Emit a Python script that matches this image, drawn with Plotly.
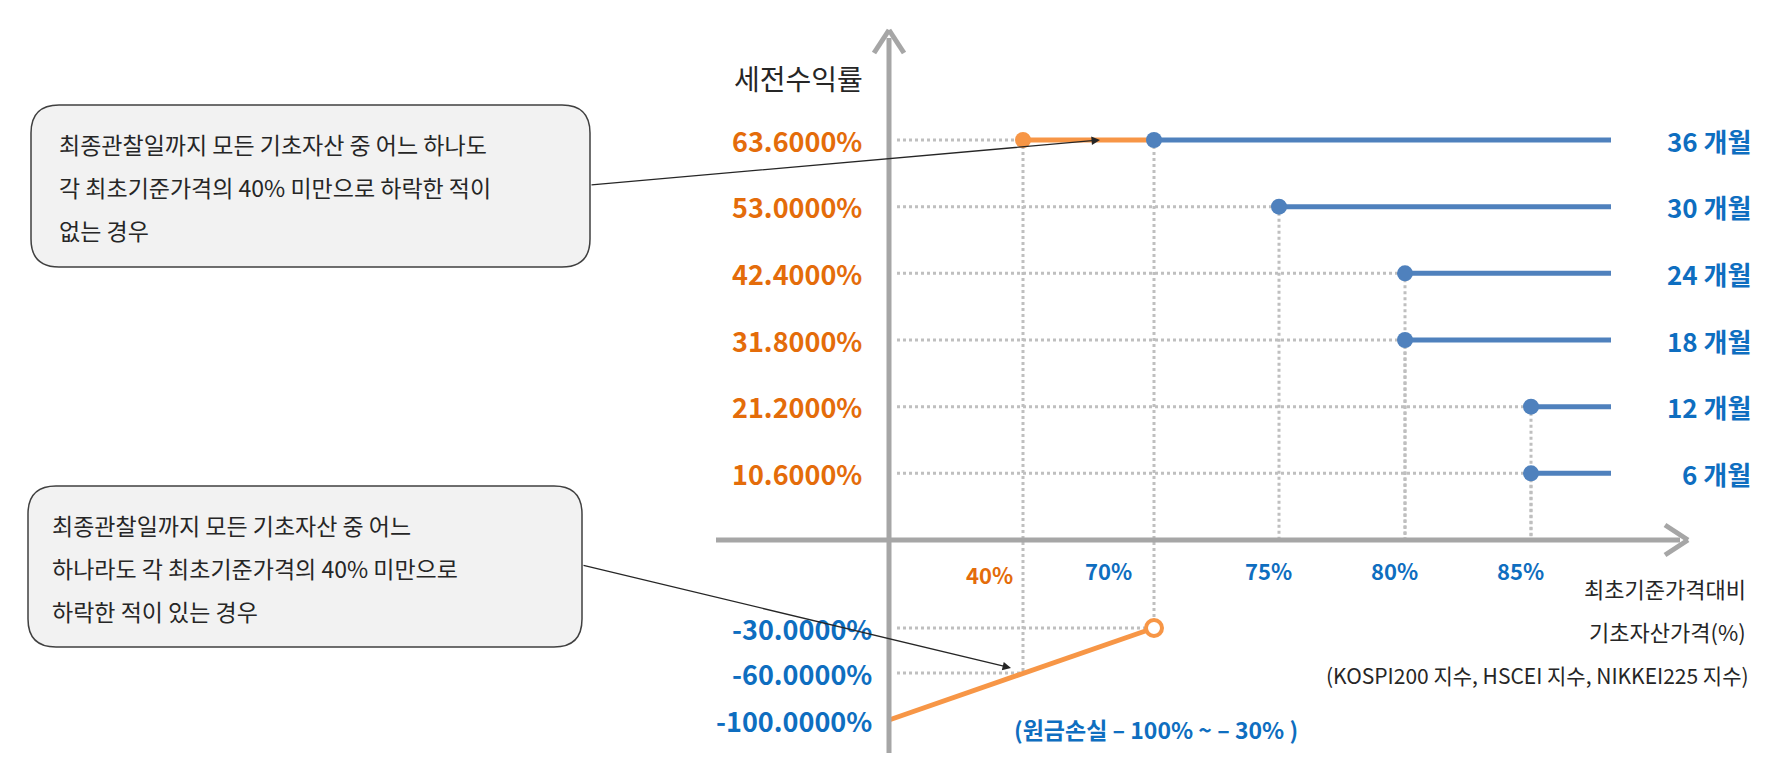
import numpy as np
import plotly.graph_objects as go

# ---- data ----
yields = [63.6, 53.0, 42.4, 31.8, 21.2, 10.6]
months = [36, 30, 24, 18, 12, 6]
call_barriers = [70, 75, 80, 80, 85, 85]
ki_barrier = 40
loss_levels = [-30.0, -60.0, -100.0]
x_tick_labels = ["40%", "70%", "75%", "80%", "85%"]
x_tick_values = [40, 70, 75, 80, 85]

# ---- scales (pixel space) ----
X0, Y0 = 881, 532
def xs(b):
    return float(np.interp(b, [0, 40, 70, 75, 80, 85], [X0, 1015, 1146, 1271, 1397, 1523]))
def ys(v):
    if v >= 0:
        return Y0 - v * (Y0 - 132) / 63.6
    return float(np.interp(v, [-100, -60, -30, 0], [712, 665, 620, Y0]))

X_END = 1603
ORANGE_T = "#E46C0A"
ORANGE_L = "#F79646"
BLUE_L = "#4F81BD"
BLUE_T = "#0E6EC0"
GRAY = "#A6A6A6"
DOT = "#BFBFBF"
FONT = "Noto Sans CJK KR"

fig = go.Figure()
shapes = []
ann = []

def dotted(x0, y0, x1, y1):
    shapes.append(dict(type="line", x0=x0, y0=y0, x1=x1, y1=y1,
                       line=dict(color=DOT, width=3, dash="dot"), layer="below"))

# axes
shapes.append(dict(type="line", x0=708, y0=Y0, x1=1672, y1=Y0, line=dict(color=GRAY, width=5)))
shapes.append(dict(type="line", x0=X0, y0=745, x1=X0, y1=30, line=dict(color=GRAY, width=5)))
for sgn in (-1, 1):
    shapes.append(dict(type="line", x0=1680, y0=Y0, x1=1657, y1=Y0 + sgn * 15, line=dict(color=GRAY, width=5)))
    shapes.append(dict(type="line", x0=X0, y0=22, x1=X0 + sgn * 15, y1=45, line=dict(color=GRAY, width=5)))

# coupon rows
for v, m, b in zip(yields, months, call_barriers):
    y = ys(v)
    xb = xs(b)
    if v == max(yields):
        xk = xs(ki_barrier)
        dotted(X0 + 8, y, xk, y)
        dotted(xk, y, xk, ys(-60))
        dotted(xb, y, xb, ys(-30))
        fig.add_trace(go.Scatter(x=[xk, xb], y=[y, y], mode="lines",
                                 line=dict(color=ORANGE_L, width=5), hoverinfo="skip"))
        fig.add_trace(go.Scatter(x=[xk], y=[y], mode="markers",
                                 marker=dict(color=ORANGE_L, size=16), hoverinfo="skip"))
    else:
        dotted(X0 + 8, y, xb, y)
        dotted(xb, y, xb, Y0)
    fig.add_trace(go.Scatter(x=[xb, X_END], y=[y, y], mode="lines",
                             line=dict(color=BLUE_L, width=5), hoverinfo="skip"))
    fig.add_trace(go.Scatter(x=[xb], y=[y], mode="markers",
                             marker=dict(color=BLUE_L, size=16), hoverinfo="skip"))
    ann.append(dict(x=856, y=y, text=f"<b>{v:.4f}%</b>", xanchor="right", yanchor="middle", showarrow=False,
                    font=dict(color=ORANGE_T, size=27, family=FONT)))
    ann.append(dict(x=1745, y=y, text=f"<b>{m} 개월</b>", xanchor="right", yanchor="middle", showarrow=False,
                    font=dict(color=BLUE_T, size=26, family=FONT)))

# loss region
dotted(X0 + 8, ys(-30), xs(70), ys(-30))
dotted(X0 + 8, ys(-60), xs(40), ys(-60))
fig.add_trace(go.Scatter(x=[xs(0), xs(70)], y=[ys(-100), ys(-30)], mode="lines",
                         line=dict(color=ORANGE_L, width=5), hoverinfo="skip"))
fig.add_trace(go.Scatter(x=[xs(70)], y=[ys(-30)], mode="markers",
                         marker=dict(color="white", size=16, line=dict(color=ORANGE_L, width=4)), hoverinfo="skip"))
for v in loss_levels:
    ann.append(dict(x=866, y=ys(v), text=f"<b>{v:.4f}%</b>", xanchor="right", yanchor="middle", showarrow=False,
                    font=dict(color=BLUE_T, size=27, family=FONT)))

# x tick labels
for lab, b in zip(x_tick_labels, x_tick_values):
    col = ORANGE_T if b == ki_barrier else BLUE_T
    dx = -34 if b == 40 else (-46 if b == 70 else -11)
    ann.append(dict(x=xs(b) + dx, y=562 if b != 40 else 566, text=f"<b>{lab}</b>", showarrow=False,
                    xanchor="center", yanchor="middle", font=dict(color=col, size=22, family=FONT)))

# titles
ann.append(dict(x=790, y=70, text="세전수익률", showarrow=False, font=dict(color="#262626", size=28, family=FONT)))
ann.append(dict(x=1740, y=580, text="최초기준가격대비", xanchor="right", showarrow=False,
                font=dict(color="#262626", size=22, family=FONT)))
ann.append(dict(x=1740, y=623, text="기초자산가격(%)", xanchor="right", showarrow=False,
                font=dict(color="#262626", size=22, family=FONT)))
ann.append(dict(x=1743, y=667, text="(KOSPI200 지수, HSCEI 지수, NIKKEI225 지수)", xanchor="right", showarrow=False,
                font=dict(color="#262626", size=21, family=FONT)))
ann.append(dict(x=1148, y=721, text="<b>(원금손실 – 100% ~ – 30% )</b>", showarrow=False,
                font=dict(color=BLUE_T, size=23, family=FONT)))

# callouts
def rbox(x0, y0, x1, y1, r=28):
    return (f"M{x0+r},{y0} L{x1-r},{y0} Q{x1},{y0} {x1},{y0+r} L{x1},{y1-r} Q{x1},{y1} {x1-r},{y1} "
            f"L{x0+r},{y1} Q{x0},{y1} {x0},{y1-r} L{x0},{y0+r} Q{x0},{y0} {x0+r},{y0} Z")
shapes.append(dict(type="path", path=rbox(23, 97, 582, 259), fillcolor="#F2F2F2",
                   line=dict(color="#404040", width=1.5)))
shapes.append(dict(type="path", path=rbox(20, 478, 574, 639), fillcolor="#F2F2F2",
                   line=dict(color="#404040", width=1.5)))
box1 = ["최종관찰일까지 모든 기초자산 중 어느 하나도", "각 최초기준가격의 40% 미만으로 하락한 적이", "없는 경우"]
box2 = ["최종관찰일까지 모든 기초자산 중 어느", "하나라도 각 최초기준가격의 40% 미만으로", "하락한 적이 있는 경우"]
for i, t in enumerate(box1):
    ann.append(dict(x=49, y=136 + 43 * i, text=t, xanchor="left", showarrow=False,
                    font=dict(color="#262626", size=23, family=FONT)))
for i, t in enumerate(box2):
    ann.append(dict(x=42, y=517 + 43 * i, text=t, xanchor="left", showarrow=False,
                    font=dict(color="#262626", size=23, family=FONT)))
ann.append(dict(x=1092, y=132, ax=582, ay=177, xref="x", yref="y", axref="x", ayref="y", text="",
                showarrow=True, arrowhead=2, arrowsize=1.3, arrowwidth=1.3, arrowcolor="#262626"))
ann.append(dict(x=1003, y=660, ax=574, ay=557, xref="x", yref="y", axref="x", ayref="y", text="",
                showarrow=True, arrowhead=2, arrowsize=1.3, arrowwidth=1.3, arrowcolor="#262626"))

fig.update_layout(width=1774, height=770, margin=dict(l=0, r=0, t=0, b=0),
                  paper_bgcolor="white", plot_bgcolor="white", showlegend=False,
                  shapes=shapes, annotations=ann,
                  xaxis=dict(range=[0, 1774], visible=False, fixedrange=True),
                  yaxis=dict(range=[770, 0], visible=False, fixedrange=True))
fig.write_html("out.html")
